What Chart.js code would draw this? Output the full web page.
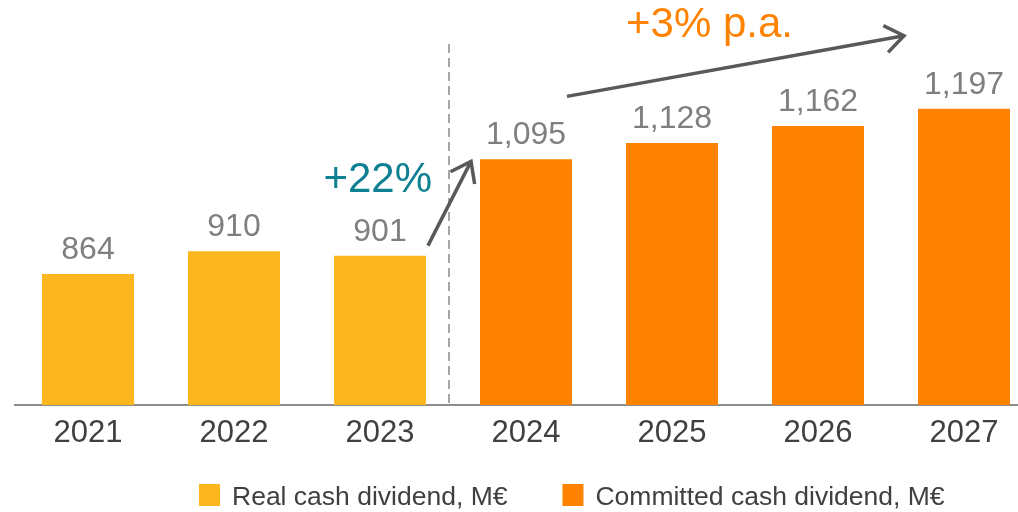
<!DOCTYPE html>
<html>
<head>
<meta charset="utf-8">
<style>
  html, body { margin: 0; padding: 0; overflow: hidden; background: #fff; }
</style>
<script src="https://cdn.jsdelivr.net/npm/chart.js@4.4.1/dist/chart.umd.min.js"></script>
</head>
<body>
<canvas id="divChart" width="1040" height="512"></canvas>
<script>
const years = ['2021', '2022', '2023', '2024', '2025', '2026', '2027'];
const realDividend = [864, 910, 901, null, null, null, null];
const committedDividend = [null, null, null, 1095, 1128, 1162, 1197];
const seriesNames = ['Real cash dividend, M€', 'Committed cash dividend, M€'];
const growthLabels = ['+22%', '+3% p.a.'];

const FONT = '"Liberation Sans", Arial, sans-serif';
const YELLOW = '#FDB71E';
const ORANGE = '#FF8200';
const ARROW = '#595959';

function arrow(ctx, x0, y0, x1, y1) {
    const a = Math.atan2(y1 - y0, x1 - x0), len = 23, spread = 0.63;
    ctx.strokeStyle = ARROW;
    ctx.lineWidth = 3.5;
    ctx.beginPath();
    ctx.moveTo(x0, y0);
    ctx.lineTo(x1, y1);
    ctx.stroke();
    ctx.beginPath();
    ctx.moveTo(x1 - len * Math.cos(a - spread), y1 - len * Math.sin(a - spread));
    ctx.lineTo(x1, y1);
    ctx.lineTo(x1 - len * Math.cos(a + spread), y1 - len * Math.sin(a + spread));
    ctx.stroke();
}

// value labels, divider, growth arrows
const extras = {
    id: 'extras',
    afterDatasetsDraw(chart) {
        const { ctx, scales: { x, y } } = chart;
        ctx.save();
        ctx.font = '32px ' + FONT;
        ctx.fillStyle = '#7F7F7F';
        ctx.textAlign = 'center';
        ctx.textBaseline = 'alphabetic';
        chart.data.datasets.forEach((ds, i) => {
            chart.getDatasetMeta(i).data.forEach((bar, j) => {
                const v = ds.data[j];
                if (v == null) return;
                ctx.fillText(v.toLocaleString('en-US'), bar.x, bar.y - 15);
            });
        });

        const real = chart.getDatasetMeta(0).data;
        const comm = chart.getDatasetMeta(1).data;

        // dashed divider between actuals and commitments
        const divX = (x.getPixelForValue(2) + x.getPixelForValue(3)) / 2 - 4;
        ctx.strokeStyle = '#A6A6A6';
        ctx.lineWidth = 2;
        ctx.setLineDash([9, 5]);
        ctx.beginPath();
        ctx.moveTo(divX, y.top + 36);
        ctx.lineTo(divX, y.bottom);
        ctx.stroke();
        ctx.setLineDash([]);

        const b23 = real[2], b24 = comm[3], b25 = comm[4], b27 = comm[6];
        arrow(ctx, b23.x + b23.width / 2 + 2, b23.y - 10, b24.x - b24.width / 2 - 9, b24.y + 2);
        arrow(ctx, b24.x + 41, b24.y - 63, b27.x - 60, b27.y - 73);

        ctx.font = '42px ' + FONT;
        ctx.fillStyle = '#0F7F92';
        ctx.textAlign = 'right';
        ctx.fillText(growthLabels[0], b23.x + 52, b24.y + 33);
        ctx.fillStyle = ORANGE;
        ctx.textAlign = 'left';
        ctx.fillText(growthLabels[1], b25.x - 46, y.top + 29);
        ctx.restore();
    }
};

// legend row under the axis
const legendRow = {
    id: 'legendRow',
    afterDraw(chart) {
        const ctx = chart.ctx;
        ctx.save();
        ctx.font = '26.5px ' + FONT;
        ctx.textAlign = 'left';
        ctx.textBaseline = 'alphabetic';
        let lx = 199;
        const top = 484;
        chart.data.datasets.forEach(ds => {
            ctx.fillStyle = ds.backgroundColor;
            ctx.fillRect(lx, top, 21, 22);
            ctx.fillStyle = '#404040';
            ctx.fillText(ds.label, lx + 33, top + 21);
            lx += 33 + ctx.measureText(ds.label).width + 55;
        });
        ctx.restore();
    }
};

new Chart(document.getElementById('divChart'), {
    type: 'bar',
    data: {
        labels: years,
        datasets: [{
            label: seriesNames[0],
            data: realDividend,
            backgroundColor: YELLOW,
            barPercentage: 0.63,
            categoryPercentage: 1
        }, {
            label: seriesNames[1],
            data: committedDividend,
            backgroundColor: ORANGE,
            barPercentage: 0.63,
            categoryPercentage: 1
        }]
    },
    options: {
        responsive: false,
        animation: false,
        devicePixelRatio: 1,
        layout: { padding: { left: 15, right: 3, top: 8, bottom: 0 } },
        plugins: {
            legend: { display: false },
            tooltip: { enabled: false }
        },
        scales: {
            x: {
                stacked: true,
                grid: { display: true, drawOnChartArea: false, drawTicks: false, color: 'transparent' },
                border: { display: true, color: '#8C8C8C', width: 2 },
                ticks: {
                    color: '#404040',
                    font: { family: FONT, size: 31 },
                    padding: 10,
                    maxRotation: 0,
                    autoSkip: false
                },
                afterFit(scale) { scale.height = 107; }
            },
            y: {
                display: false,
                min: 600,
                max: 1400
            }
        }
    },
    plugins: [extras, legendRow]
});
</script>
</body>
</html>
